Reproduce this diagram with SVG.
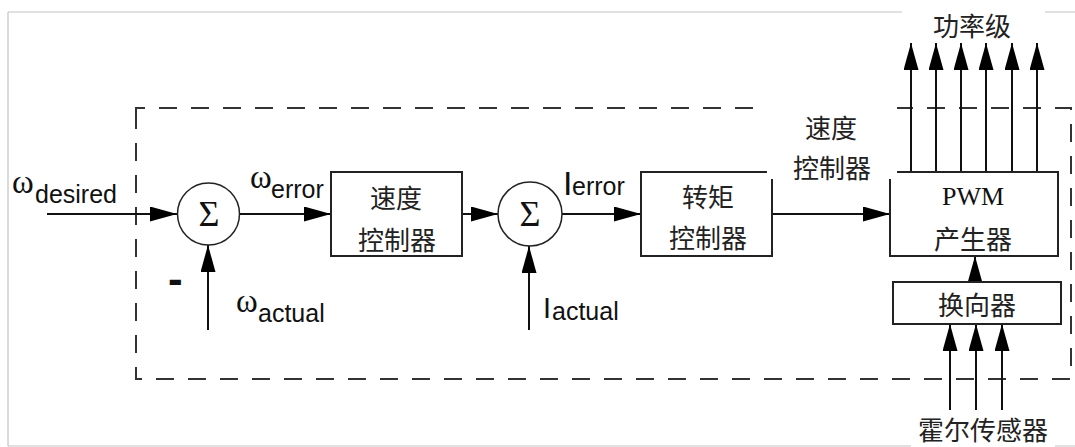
<svg xmlns="http://www.w3.org/2000/svg" width="1075" height="447" viewBox="0 0 1075 447">
<style>
.frame{stroke:#c4c4c4;stroke-width:1.2;fill:none}
.dash{stroke:#333;stroke-width:2;fill:none;stroke-dasharray:18 14}
.box{fill:#fff;stroke:#222;stroke-width:2}
.circ{fill:#fff;stroke:#222;stroke-width:1.5}
.wire{stroke:#111;stroke-width:2;fill:none}
.arr{stroke:#111;stroke-width:2;fill:none;marker-end:url(#ah)}
.cjk{font-family:"Noto Sans CJK SC","Noto Sans",sans-serif;font-size:26px;fill:#222;text-anchor:middle;dominant-baseline:central}
.sans{font-family:"Liberation Sans",Arial,sans-serif;font-size:25px;fill:#111}
.greek{font-family:"Liberation Serif","Times New Roman",serif;font-size:33px;fill:#111}
.sig{font-family:"Liberation Serif","Times New Roman",serif;font-size:36px;fill:#111;text-anchor:middle}
.serif{font-family:"Liberation Serif","Times New Roman",serif;font-size:26px;fill:#111;text-anchor:middle}
</style>
<defs>
<marker id="ah" markerUnits="userSpaceOnUse" markerWidth="28" markerHeight="16" refX="27" refY="7.5" orient="auto">
<path d="M0,0 L27,7.5 L0,15 Z" fill="#000"/>
</marker>
</defs>
<rect width="1075" height="447" fill="#fff"/>
<g id="frame">
<path class="frame" d="M8,12 H902 M1045,12 H1075 M8,12 V446 M8,446 H911 M1055,446 H1075"/>
</g>
<g id="boundary">
<path class="dash" d="M136,117 V108 H1071 V379 H136 Z"/>
</g>
<g id="connectors">
<line class="arr" x1="47" y1="214" x2="177" y2="214"/>
<line class="arr" x1="208" y1="330" x2="208" y2="245"/>
<line class="arr" x1="240" y1="214" x2="331" y2="214"/>
<line class="arr" x1="462" y1="214" x2="498" y2="214"/>
<line class="arr" x1="529" y1="330" x2="529" y2="246"/>
<line class="arr" x1="562" y1="214" x2="641" y2="214"/>
<line class="arr" x1="772" y1="214" x2="890" y2="214"/>
<line class="arr" x1="975" y1="282" x2="975" y2="256"/>
<line class="arr" x1="950" y1="410" x2="950" y2="324"/>
<line class="arr" x1="976" y1="410" x2="976" y2="324"/>
<line class="arr" x1="1002" y1="410" x2="1002" y2="324"/>
<line class="arr" x1="911" y1="172" x2="911" y2="43"/>
<line class="arr" x1="936" y1="172" x2="936" y2="43"/>
<line class="arr" x1="961" y1="172" x2="961" y2="43"/>
<line class="arr" x1="986" y1="172" x2="986" y2="43"/>
<line class="arr" x1="1012" y1="172" x2="1012" y2="43"/>
<line class="arr" x1="1037" y1="172" x2="1037" y2="43"/>
</g>
<g id="sum1">
<circle class="circ" cx="208.5" cy="214" r="31"/>
<text class="sig" x="209" y="226">Σ</text>
</g>
<g id="sum2">
<circle class="circ" cx="530" cy="214" r="32"/>
<text class="sig" x="530" y="226">Σ</text>
</g>
<g id="speed-controller">
<rect class="box" x="331" y="172" width="131" height="84"/>
<text class="cjk" x="396" y="196">速度</text>
<text class="cjk" x="397" y="238">控制器</text>
</g>
<g id="torque-controller">
<rect class="box" x="641" y="172" width="131" height="84"/>
<text class="cjk" x="708" y="195">转矩</text>
<text class="cjk" x="708" y="236">控制器</text>
</g>
<g id="pwm">
<rect class="box" x="890" y="172" width="168" height="84"/>
<text class="serif" x="973" y="205">PWM</text>
<text class="cjk" x="973" y="237">产生器</text>
</g>
<g id="commutator">
<rect class="box" x="893" y="282" width="168" height="42"/>
<text class="cjk" x="977" y="303">换向器</text>
</g>
<g id="label-speed-controller">
<rect x="767" y="100" width="130" height="79" fill="#fff"/>
<text class="cjk" x="831" y="126">速度</text>
<text class="cjk" x="832" y="166">控制器</text>
</g>
<g id="label-power">
<text class="cjk" x="972" y="24">功率级</text>
</g>
<g id="label-hall">
<text class="cjk" x="983" y="428" style="font-size:26px">霍尔传感器</text>
</g>
<g id="labels">
<text class="greek" x="12" y="193">ω</text>
<text class="sans" x="35" y="203">desired</text>
<text class="greek" x="250" y="188">ω</text>
<text class="sans" x="271" y="198">error</text>
<text class="greek" x="236" y="312">ω</text>
<text class="sans" x="258" y="322">actual</text>
<text class="sans" x="563" y="195" style="font-size:34px">I</text>
<text class="sans" x="572" y="195">error</text>
<text class="sans" x="543" y="318" style="font-size:29px">I</text>
<text class="sans" x="552" y="320">actual</text>
<text class="sans" x="168" y="294" style="font-size:44px;font-weight:bold">-</text>
</g>
</svg>
